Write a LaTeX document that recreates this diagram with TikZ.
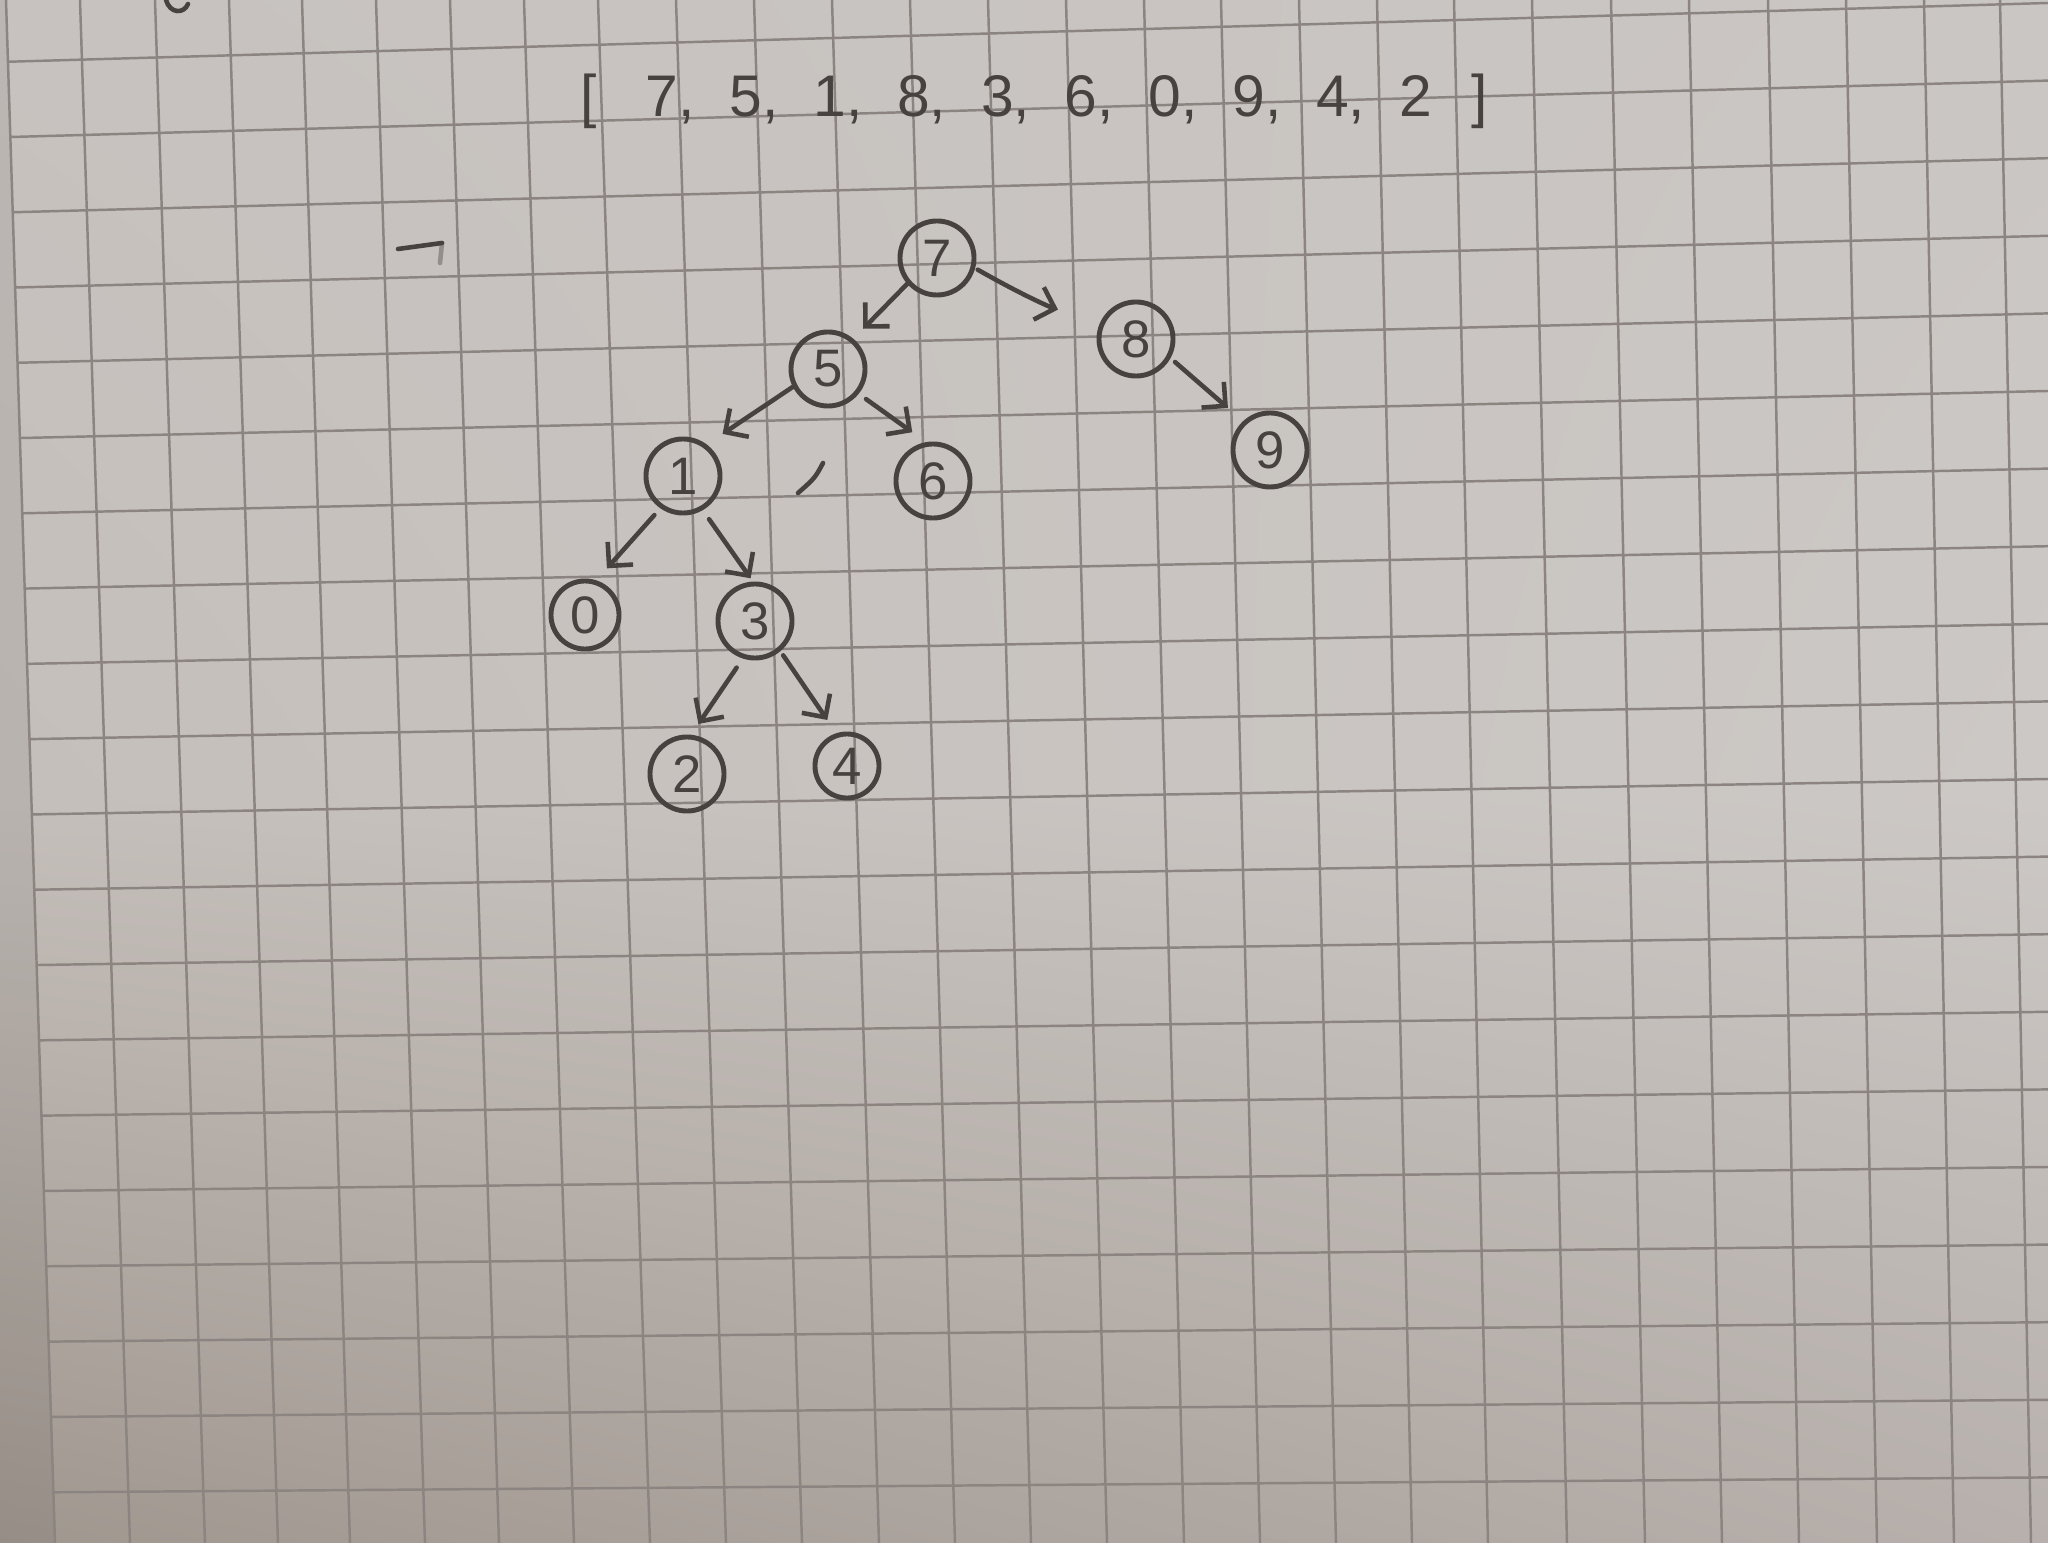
\documentclass[tikz,border=0pt]{standalone}
\usepackage{fontspec}
\newfontfamily\penfont{Liberation Sans}
\newcommand\widespaces{\spaceskip 9.9pt\relax}
\usetikzlibrary{arrows.meta,shadings}

\definecolor{pencil}{HTML}{47423F}
\definecolor{gridgrey}{HTML}{8B8480}
\definecolor{paperTL}{HTML}{C7C2BF}
\definecolor{paperTR}{HTML}{CAC6C3}
\definecolor{paperML}{HTML}{C5BFBB}
\definecolor{paperMR}{HTML}{CCC8C5}
\definecolor{paperBL}{HTML}{A0978F}
\definecolor{paperBR}{HTML}{B7B0AC}

\begin{document}
\begin{tikzpicture}[
    x=0.01cm, y=-0.01cm,
    vertex/.style={circle, draw=pencil, line width=1.4pt, minimum size=0.74cm, inner sep=0pt, text=pencil, font=\penfont\fontsize{15}{15}\selectfont},
    arrow/.style={-{Straight Barb[length=1.7mm, width=3.4mm]}, line width=1.3pt, pencil, line cap=round},
    gridline/.style={gridgrey, line width=0.7pt},
    stroke/.style={pencil, line width=1.3pt, line cap=round},
    title/.style={anchor=base, text=pencil, inner sep=0pt, font=\penfont\fontsize{16.7}{17}\selectfont\widespaces}
]
\useasboundingbox (0,0) rectangle (2048,1543);

% Paper
\shade[upper left=paperTL, upper right=paperTR, lower left=paperML, lower right=paperMR] (0,0) rectangle (2048,800);
\shade[upper left=paperML, upper right=paperMR, lower left=paperBL, lower right=paperBR] (0,800) rectangle (2048,1543);
\fill[black, opacity=0.06] (0,0) -- (6,0) -- (55,1543) -- (0,1543) -- cycle;

% Grid
\begin{scope}
    \clip (0,0) rectangle (2048,1543);
    \foreach \t/\b in {6/55, 80/130, 155/205, 229/278, 302/350, 376/425, 450/499, 524/574, 598/650, 676/726, 754/802, 832/879, 910/955, 988/1031, 1066/1107, 1144/1184, 1221/1260, 1299/1336, 1377/1412, 1454/1488, 1532/1567, 1611/1645, 1689/1722, 1768/1799, 1846/1877, 1924/1954, 2000/2031} {
        \draw[gridline] (\t,0) -- (\b,1543);
    }
    \clip (6,0) -- (2048,0) -- (2048,1543) -- (55,1543) -- cycle;
    \foreach \k in {0,...,20} {
        \draw[gridline] (0,{62+75.3*\k}) -- (2048,{3+77.6*\k});
    }
\end{scope}

% Input list
\node[title] (array) at (1034,117) {[\hspace{14pt}7, 5, 1, 8, 3, 6, 0, 9, 4, 2\hspace{11pt}]};

% Tree
\node[vertex] (n7) at (937,258) {7};
\node[vertex] (n5) at (828,369) {5};
\node[vertex] (n8) at (1136,339) {8};
\node[vertex] (n1) at (683,476) {1};
\node[vertex] (n6) at (933,481) {6};
\node[vertex] (n9) at (1270,450) {9};
\node[vertex, minimum size=0.68cm] (n0) at (585,615) {0};
\node[vertex] (n3) at (755,621) {3};
\node[vertex] (n2) at (687,774) {2};
\node[vertex, minimum size=0.64cm] (n4) at (847,766) {4};

% Arrows
\foreach \a/\sa/\sg/\b/\ea/\eg in {7/221/0pt/5/50/0.14cm, 5/207/0pt/1/53/0.19cm, 5/-39/0.09cm/6/100/0.17cm, 8/-29/0.06cm/9/133/0.20cm, 1/235/0.09cm/0/72/0.16cm, 1/-60/0.11cm/3/93/0.04cm, 3/252/0.11cm/2/84/0.13cm, 3/-50/0.05cm/4/108/0.16cm} {
    \draw[arrow, shorten <=\sg, shorten >=\eg] (n\a.\sa) -- (n\b.\ea);
}
\draw[arrow, shorten <=0.03cm, shorten >=0.44cm] (n7.-15) to[bend right=6] (n8.156);

% Stray pencil marks
\draw[stroke] (823,463) .. controls (815,478) .. (798,493);
\draw[stroke] (398,249) -- (442,243);
\draw[stroke, opacity=0.4] (442,243) -- (440,263);
\draw[stroke] (166,0) .. controls (170,14) and (184,14) .. (188,4);

\end{tikzpicture}
\end{document}
